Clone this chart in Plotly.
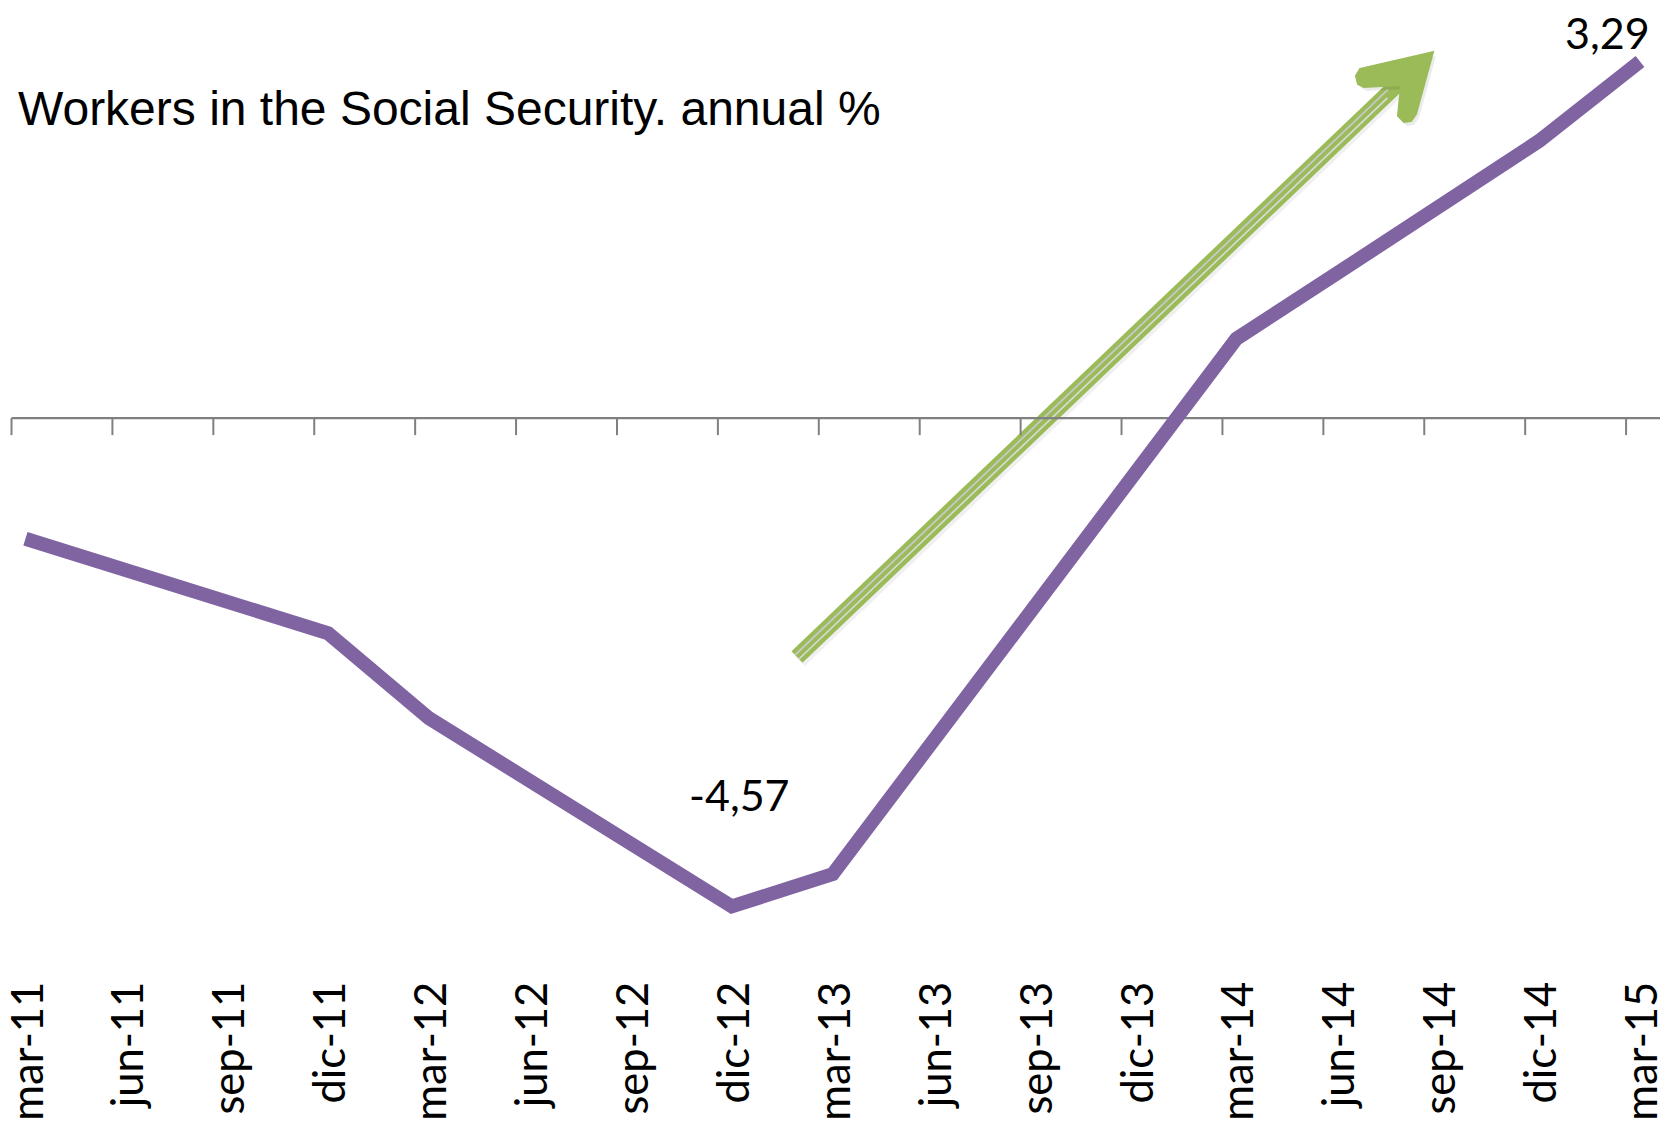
import plotly.graph_objects as go

# Quarterly year-on-year change in Social Security affiliates (%)
periods = ["mar-11", "jun-11", "sep-11", "dic-11", "mar-12", "jun-12", "sep-12",
           "dic-12", "mar-13", "jun-13", "sep-13", "dic-13", "mar-14", "jun-14",
           "sep-14", "dic-14", "mar-15"]
growth = [-1.15, -1.45, -1.74, -2.03, -2.82, -3.40, -3.99, -4.57, -4.27,
          -3.02, -1.78, -0.55, 0.71, 1.32, 1.94, 2.55, 3.29]

# points that carry a value label, with the label offset in pixels
labelled = {7: (8, 112), 16: (-33, 29)}

W, H = 1660, 1124
PLOT_H = 972          # plot area height in pixels (top margin 0)
PX_PER_UNIT = 107.5
ZERO_PX = 415.1
PURPLE = "#8064A2"
GREEN = "#9BBB59"
AXIS = "#808080"

idx = list(range(len(periods)))

fig = go.Figure()
fig.add_trace(go.Scatter(
    x=idx, y=growth, mode="lines",
    line=dict(color=PURPLE, width=14),
    hoverinfo="skip", showlegend=False,
))


def px(xp, yp):
    """pixel position -> paper coordinates"""
    return xp / W, 1 - yp / PLOT_H


shapes = []

# zero line with tick marks (category ticks sit slightly left of the points)
tick_offset = -0.138
shapes.append(dict(type="line", xref="x", yref="y", ysizemode="pixel", yanchor=0,
                   x0=tick_offset, x1=idx[-1] + 0.3, y0=-3, y1=-3,
                   line=dict(color=AXIS, width=2.2), layer="below"))
for i in idx:
    shapes.append(dict(type="line", xref="x", yref="y", ysizemode="pixel", yanchor=0,
                       x0=i + tick_offset, x1=i + tick_offset, y0=-3, y1=-20,
                       line=dict(color=AXIS, width=2), layer="below"))

# trend arrow: sketched green shaft with an open head
sx0, sy0 = 797, 657
sx1, sy1 = 1400, 82
dx, dy = sx1 - sx0, sy1 - sy0
L = (dx * dx + dy * dy) ** 0.5
ux, uy = dx / L, dy / L
nx, ny = -uy, ux


def seg(off, width, color, shift=(0, 0), trim0=0, trim1=0):
    ax = sx0 + ux * trim0 + nx * off + shift[0]
    ay = sy0 + uy * trim0 + ny * off + shift[1]
    bx = sx1 - ux * trim1 + nx * off + shift[0]
    by = sy1 - uy * trim1 + ny * off + shift[1]
    p0 = px(ax, ay)
    p1 = px(bx, by)
    return dict(type="line", xref="paper", yref="paper",
                x0=p0[0], y0=p0[1], x1=p1[0], y1=p1[1],
                line=dict(color=color, width=width), layer="below")


# soft halo and shadow
shapes.append(seg(0, 30, "rgba(255,255,255,0.85)"))
shapes.append(seg(0, 14, "rgba(0,0,0,0.06)", shift=(3, 4)))
# shaft body with light inner strokes
shapes.append(seg(0, 16, GREEN))
shapes.append(seg(-2.8, 1.8, "#c8c8c8", trim1=14))
shapes.append(seg(2.8, 1.6, "#dadada", trim1=20))

head = [(1360, 69), (1433, 52), (1416, 114), (1411, 121), (1404, 122), (1398, 116),
        (1401, 85), (1364, 87), (1358, 84), (1356, 76)]


def path_of(points, shift=(0, 0)):
    parts = []
    for k, (hx, hy) in enumerate(points):
        xp, yp = px(hx + shift[0], hy + shift[1])
        parts.append(("M" if k == 0 else "L") + f"{xp:.5f},{yp:.5f}")
    return " ".join(parts) + " Z"


shapes.append(dict(type="path", xref="paper", yref="paper", path=path_of(head, (3, 4)),
                   fillcolor="rgba(0,0,0,0.08)", line=dict(width=0), layer="below"))
shapes.append(dict(type="path", xref="paper", yref="paper", path=path_of(head),
                   fillcolor=GREEN, line=dict(color=GREEN, width=2), layer="below"))

annotations = [dict(
    text="Workers in the Social Security. annual %",
    xref="paper", yref="paper", x=16 / W, y=1 - 108 / PLOT_H,
    xanchor="left", yanchor="middle", showarrow=False,
    font=dict(family="Liberation Sans, Arial", size=48, color="black"),
)]
for i, (xs, ys) in labelled.items():
    annotations.append(dict(
        text=f"{growth[i]:.2f}".replace(".", ","),
        x=i, y=growth[i], xref="x", yref="y", xshift=xs, yshift=ys,
        showarrow=False, xanchor="center", yanchor="middle",
        font=dict(family="Lato", size=43, color="black"),
    ))

y_top = ZERO_PX / PX_PER_UNIT
y_bot = -(PLOT_H - ZERO_PX) / PX_PER_UNIT

fig.update_layout(
    width=W, height=H,
    margin=dict(l=0, r=0, t=0, b=H - PLOT_H, pad=0, autoexpand=False),
    paper_bgcolor="white", plot_bgcolor="white",
    xaxis=dict(range=[-0.252, 16.198], tickmode="array", tickvals=idx, ticktext=periods,
               tickangle=-90, tickfont=dict(family="Lato", size=43.5, color="black"),
               ticklabeloverflow="allow", ticklabelshift=3, automargin=False,
               showgrid=False, zeroline=False, showline=False, ticks=""),
    yaxis=dict(range=[y_bot, y_top], visible=False, automargin=False),
    shapes=shapes, annotations=annotations, showlegend=False,
)

fig.write_html("out.html")
